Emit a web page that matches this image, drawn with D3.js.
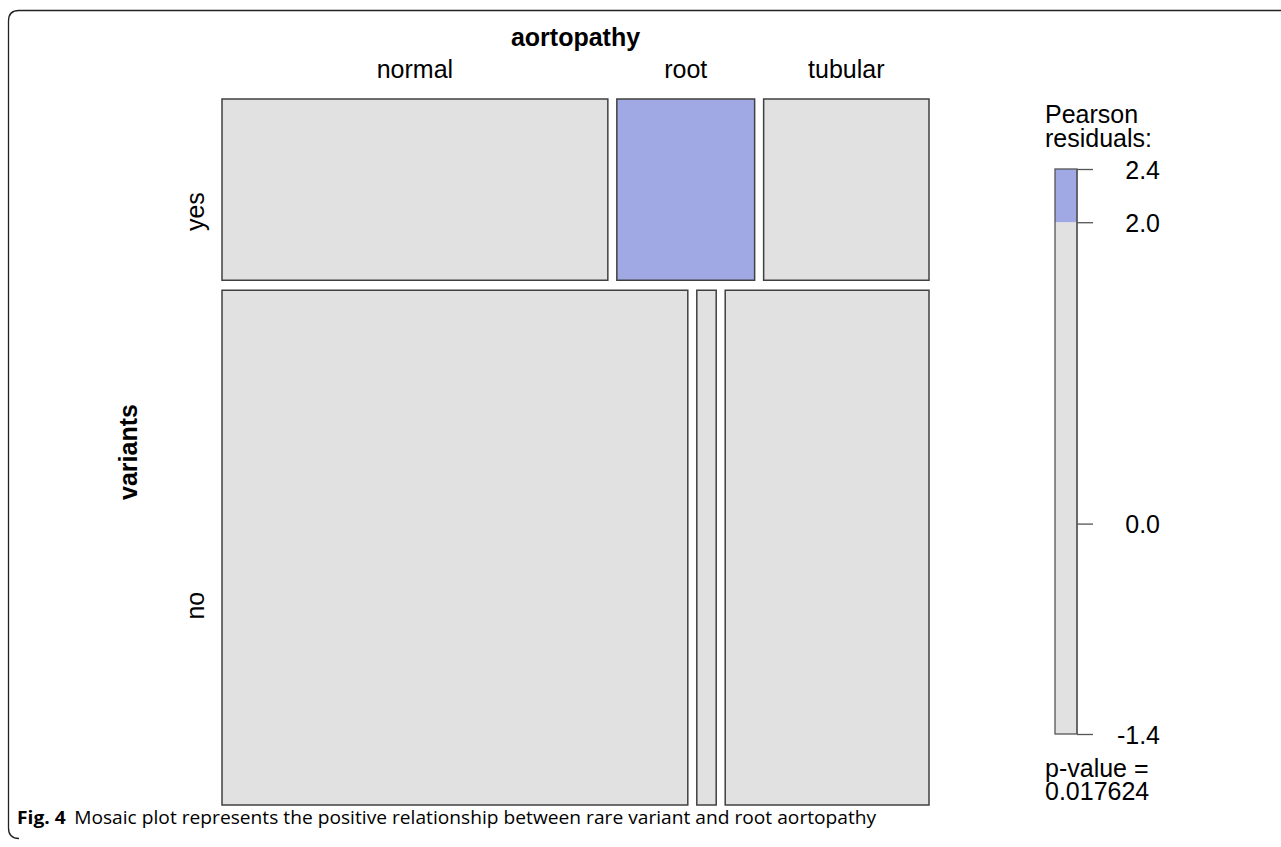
<!DOCTYPE html>
<html><head><meta charset="utf-8">
<script src="https://cdn.jsdelivr.net/npm/d3@7"></script>
<style>body{margin:0;background:#fff}</style>
</head><body>
<svg id="c" width="1281" height="847"></svg>
<script>
// ---- data ----
const aortopathy = ["normal", "root", "tubular"];
const variants = ["yes", "no"];
const countsYes = [14, 5, 6];
const countsNo = [48, 2, 21];
const pValueText = ["p-value =", "0.017624"];
const legendTitle = ["Pearson", "residuals:"];
const captionBold = "Fig. 4";
const captionText = "Mosaic plot represents the positive relationship between rare variant and root aortopathy";

const counts = [countsYes, countsNo];
const rowTot = counts.map(r => d3.sum(r));
const colTot = aortopathy.map((_, j) => d3.sum(counts, r => r[j]));
const N = d3.sum(rowTot);
const resid = counts.map((r, i) => r.map((o, j) => {
  const e = rowTot[i] * colTot[j] / N;
  return (o - e) / Math.sqrt(e);
}));
const allRes = resid.flat();
const rMin = d3.min(allRes), rMax = d3.max(allRes);

const svg = d3.select("#c");
const FONT = "'Liberation Sans', Arial, sans-serif";
const FS = 25;
const grey = "#e1e1e1", blue = "#a0a9e3", stroke = "#404040";
const fillFor = r => r > 2 ? blue : (r < -2 ? "#e4a0a0" : grey);

// frame
svg.append("path")
  .attr("d", "M1281,10.5 H19 Q8.5,10.5 8.5,21 V828 Q8.5,838.5 19,838.5")
  .attr("fill", "none").attr("stroke", "#222").attr("stroke-width", 1.3);

// ---- mosaic ----
const X0 = 222, X1 = 929, Y0 = 99, Y1 = 805, gapX = 9, gapY = 10;
const yScale = d3.scaleLinear().domain([0, N]).range([0, (Y1 - Y0) - gapY]);
let yCur = Y0;
counts.forEach((row, i) => {
  const h = yScale(rowTot[i]);
  const xScale = d3.scaleLinear().domain([0, rowTot[i]]).range([0, (X1 - X0) - gapX * (row.length - 1)]);
  let xCur = X0;
  row.forEach((v, j) => {
    const w = xScale(v);
    svg.append("rect").attr("x", xCur).attr("y", yCur).attr("width", w).attr("height", h)
      .attr("fill", fillFor(resid[i][j])).attr("stroke", stroke).attr("stroke-width", 1.5);
    if (i === 0) {
      svg.append("text").attr("x", xCur + w / 2).attr("y", 78).attr("text-anchor", "middle")
        .attr("font-family", FONT).attr("font-size", FS).text(aortopathy[j]);
    }
    xCur += w + gapX;
  });
  // row label
  const cy = i === 0 ? yCur + h / 2 + 22 : yCur + h / 2 + 58;
  svg.append("text").attr("transform", `translate(204,${cy}) rotate(-90)`)
    .attr("text-anchor", "middle").attr("font-family", FONT).attr("font-size", FS).text(variants[i]);
  yCur += h + gapY;
});
svg.append("text").attr("x", (X0 + X1) / 2).attr("y", 46).attr("text-anchor", "middle")
  .attr("font-family", FONT).attr("font-size", FS).attr("font-weight", "bold").text("aortopathy");
svg.append("text").attr("transform", `translate(137,${(Y0 + Y1) / 2}) rotate(-90)`)
  .attr("text-anchor", "middle").attr("font-family", FONT).attr("font-size", FS).attr("font-weight", "bold").text("variants");

// ---- legend ----
const LX = 1055, LW = 22, LT = 169, LB = 734;
const ls = d3.scaleLinear().domain([rMin, rMax]).range([LB, LT]);
svg.append("rect").attr("x", LX).attr("y", ls(2)).attr("width", LW).attr("height", LB - ls(2)).attr("fill", grey);
svg.append("rect").attr("x", LX).attr("y", LT).attr("width", LW).attr("height", ls(2) - LT).attr("fill", blue);
svg.append("rect").attr("x", LX).attr("y", LT).attr("width", LW).attr("height", LB - LT)
  .attr("fill", "none").attr("stroke", "#555").attr("stroke-width", 1.3);
const legendTicks = [rMax, 2, 0, rMin];
const fmt = d => d3.format(".1f")(d).replace("\u2212", "-");
const ax = svg.append("g").attr("transform", `translate(${LX + LW},0)`)
  .call(d3.axisRight(ls).tickValues(legendTicks).tickSize(16).tickFormat(fmt));
ax.select(".domain").attr("stroke", "#555").attr("stroke-width", 1.3).attr("d", `M0,${LT}V${LB}`);
ax.selectAll(".tick line").attr("stroke", "#555").attr("stroke-width", 1.3);
ax.selectAll(".tick text").attr("x", 83).attr("text-anchor", "end")
  .attr("font-family", FONT).attr("font-size", FS).attr("fill", "#000").attr("dy", "0.36em");

legendTitle.forEach((t, i) => svg.append("text").attr("x", 1045).attr("y", 123 + i * 24)
  .attr("font-family", FONT).attr("font-size", FS).text(t));
pValueText.forEach((t, i) => svg.append("text").attr("x", 1045).attr("y", 777 + i * 23)
  .attr("font-family", FONT).attr("font-size", FS).text(t));

// caption
const cap = svg.append("text").attr("x", 0).attr("y", 0).attr("font-family", "'Open Sans', 'Noto Sans', sans-serif").attr("font-size", 18);
cap.append("tspan").attr("font-weight", "bold").text(captionBold);
cap.append("tspan").attr("dx", 8).text(captionText);
const cw = cap.node().getComputedTextLength ? cap.node().getBBox().width : 861;
cap.attr("transform", `translate(17,824) scale(${861 / cw},1)`);
</script>
</body></html>
